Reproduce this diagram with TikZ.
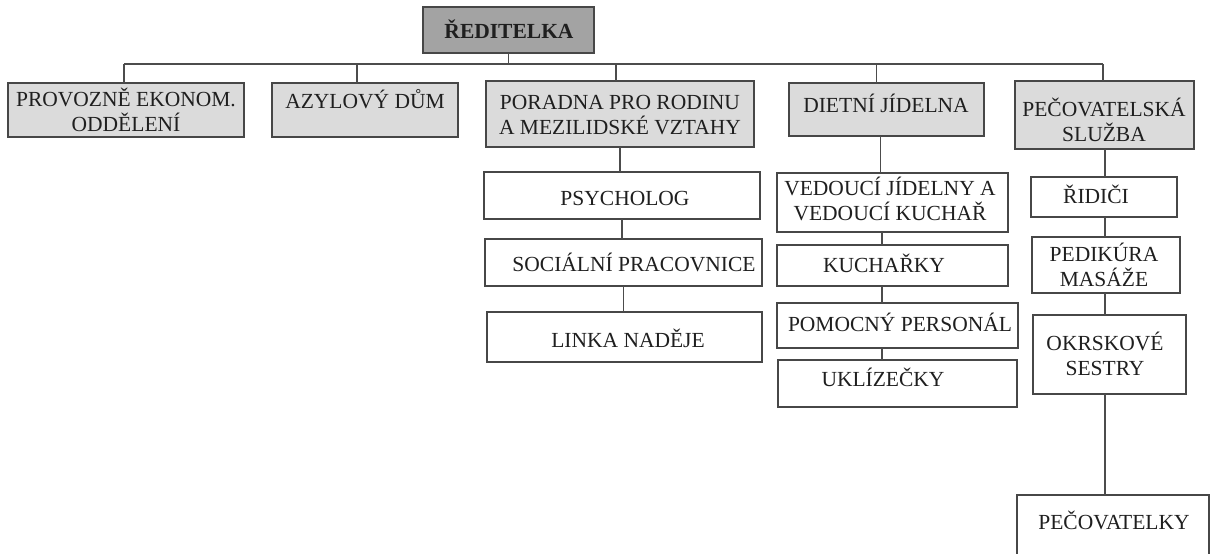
\documentclass[tikz,border=0pt]{standalone}
\usepackage{fontspec}
\setmainfont{Liberation Serif}
\newcommand\obox[6]{\node[#1, minimum width={#4pt-#2pt}, minimum height={#5pt-#3pt}] (#6) at ({(#2+#4)/2},{(#3+#5)/2}) {};}
\begin{document}
\begin{tikzpicture}[x=1pt,y=-1pt,
  box/.style={draw=black!72, line width=1.4pt, inner sep=0pt, outer sep=0pt},
  lvlzero/.style={box, fill=black!36},
  lvlone/.style={box, fill=black!14},
  lvltwo/.style={box, fill=white},
  txt/.style={font=\fontsize{21.5}{25}\selectfont, align=center, inner sep=0pt, text=black!88},
  stxt/.style={txt, text height=14.2pt, text depth=0pt},
  conn/.style={draw=black!70, line width=1.5pt}]
\clip (0,0) rectangle (1216,554);
\fill[white] (0,0) rectangle (1216,554);
% boxes
\obox{lvlzero}{423}{7}{594}{53}{root}
\obox{lvlone}{8}{83}{244}{137}{bA}
\obox{lvlone}{272}{83}{458}{137}{bB}
\obox{lvlone}{486}{81}{754}{147}{bC}
\obox{lvlone}{789}{83}{984}{136}{bD}
\obox{lvlone}{1015}{81}{1194}{149}{bE}
\obox{lvltwo}{484}{172}{760}{219}{psych}
\obox{lvltwo}{485}{239}{762}{286}{soc}
\obox{lvltwo}{487}{312}{762}{362}{linka}
\obox{lvltwo}{777}{173}{1008}{232}{ved}
\obox{lvltwo}{777}{245}{1008}{286}{kuch}
\obox{lvltwo}{777}{303}{1018}{348}{pom}
\obox{lvltwo}{778}{360}{1017}{407}{ukl}
\obox{lvltwo}{1031}{177}{1177}{217}{rid}
\obox{lvltwo}{1032}{237}{1180}{293}{ped}
\obox{lvltwo}{1033}{315}{1186}{394}{okr}
\obox{lvltwo}{1017}{495}{1209}{562}{pec}
% texts
\node[stxt, font=\fontsize{21.5}{25}\selectfont\bfseries] (troot) at (509,31) {ŘEDITELKA};
\node[txt] (tA) at (126,109.5) {PROVOZNĚ EKONOM.\\ODDĚLENÍ};
\node[stxt] (tB) at (365,101) {AZYLOVÝ DŮM};
\node[txt] (tC) at (620,115.5) {PORADNA PRO RODINU\\A MEZILIDSKÉ VZTAHY};
\node[stxt] (tD) at (886,105.5) {DIETNÍ JÍDELNA};
\node[txt] (tE) at (1104,119.5) {PEČOVATELSKÁ\\SLUŽBA};
\node[stxt] (tpsych) at (625,198) {PSYCHOLOG};
\node[stxt] (tsoc) at (634,264) {SOCIÁLNÍ PRACOVNICE};
\node[stxt] (tlinka) at (628,340) {LINKA NADĚJE};
\node[txt] (tved) at (890,199) {VEDOUCÍ JÍDELNY A\\VEDOUCÍ KUCHAŘ};
\node[stxt] (tkuch) at (884,265) {KUCHAŘKY};
\node[stxt] (tpom) at (900,324) {POMOCNÝ PERSONÁL};
\node[stxt] (tukl) at (883,379) {UKLÍZEČKY};
\node[stxt] (trid) at (1096,196) {ŘIDIČI};
\node[txt] (tped) at (1104,264.5) {PEDIKÚRA\\MASÁŽE};
\node[txt] (tokr) at (1105,353.5) {OKRSKOVÉ\\SESTRY};
\node[stxt] (tpec) at (1114,522) {PEČOVATELKY};
% connectors
\coordinate (busL) at (124,64);
\coordinate (busR) at (1103,64);
\coordinate (colD) at (882,0);
\coordinate (colE) at (1105,0);
\draw[conn] (busL) -- (busR);
\draw[conn] (root.south) -- (root.south |- busL);
\draw[conn] (busL) -- (busL |- bA.north);
\draw[conn] ([xshift=-8pt]bB.north) -- ([xshift=-8pt]bB.north |- busL);
\draw[conn] ([xshift=-4pt]bC.north) -- ([xshift=-4pt]bC.north |- busL);
\draw[conn] ([xshift=-10pt]bD.north) -- ([xshift=-10pt]bD.north |- busL);
\draw[conn] (busR) -- (busR |- bE.north);
\draw[conn] (bC.south) -- (bC.south |- psych.north);
\draw[conn] (psych.south) -- (psych.south |- soc.north);
\draw[conn] (soc.south) -- (soc.south |- linka.north);
\draw[conn] ([xshift=-6pt]bD.south) -- ([xshift=-6pt]bD.south |- ved.north);
\draw[conn] (ved.south -| colD) -- (kuch.north -| colD);
\draw[conn] (kuch.south -| colD) -- (pom.north -| colD);
\draw[conn] (pom.south -| colD) -- (ukl.north -| colD);
\draw[conn] (bE.south -| colE) -- (rid.north -| colE);
\draw[conn] (rid.south -| colE) -- (ped.north -| colE);
\draw[conn] (ped.south -| colE) -- (okr.north -| colE);
\draw[conn] (okr.south -| colE) -- (pec.north -| colE);
\end{tikzpicture}
\end{document}
